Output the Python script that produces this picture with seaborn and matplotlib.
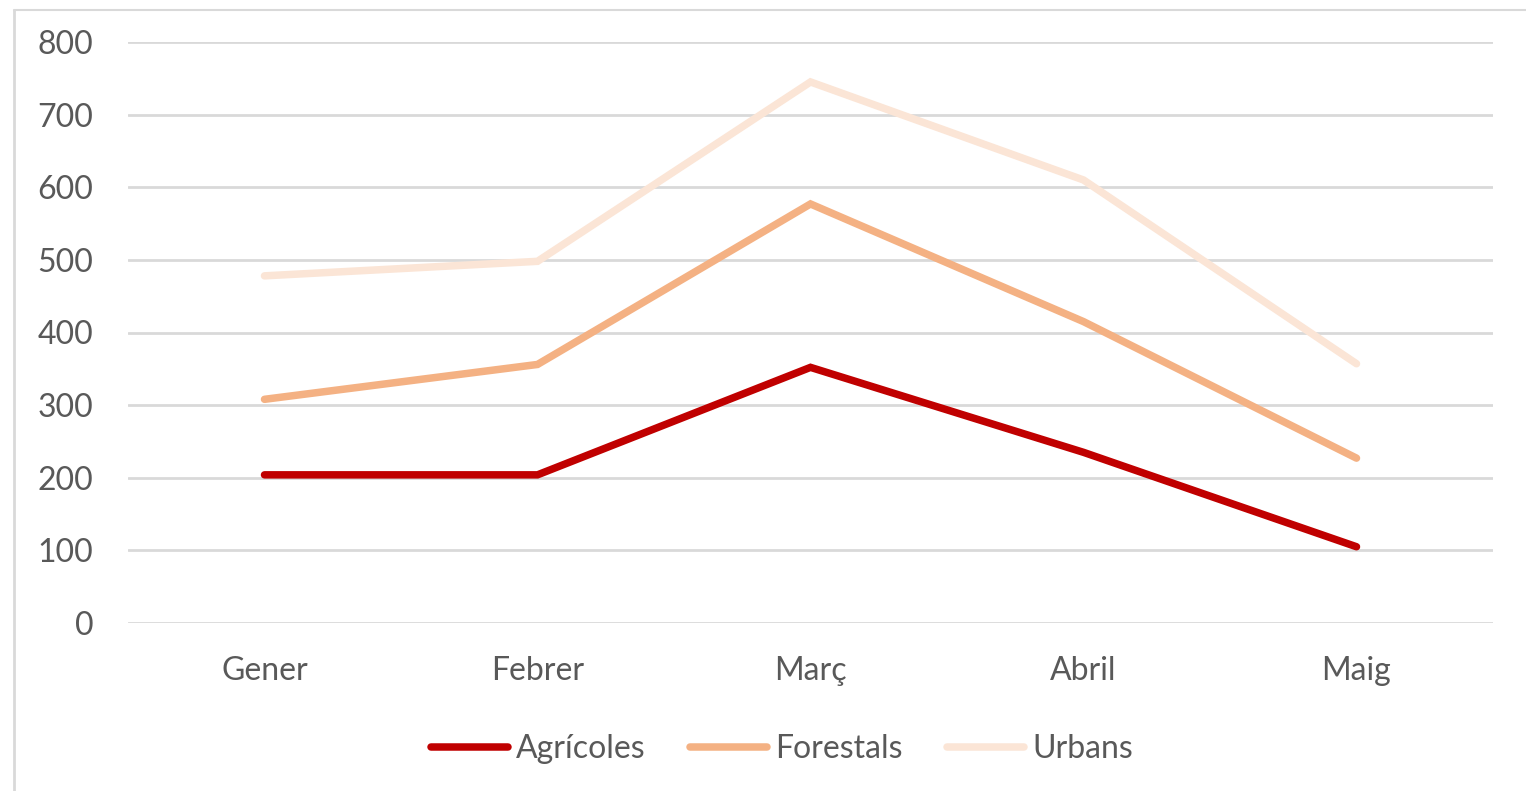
import numpy as np
import pandas as pd
import matplotlib
matplotlib.use("Agg")
import matplotlib.pyplot as plt
from matplotlib.lines import Line2D
import seaborn as sns

# Dades
mesos = ['Gener', 'Febrer', 'Març', 'Abril', 'Maig']
agricoles = [204, 204, 352, 235, 105]
forestals = [308, 356, 577, 415, 227]
urbans = [478, 498, 745, 610, 357]
series = ['Agrícoles', 'Forestals', 'Urbans']
colors = ['#C00000', '#F4B183', '#FBE5D6']

df = pd.DataFrame({'mes': mesos, 'Agrícoles': agricoles,
                   'Forestals': forestals, 'Urbans': urbans})
df_long = df.melt(id_vars='mes', var_name='tipus', value_name='valor')
df_long['x'] = df_long['mes'].map({m: i for i, m in enumerate(mesos)})

sns.set_style('white')
plt.rcParams['font.family'] = ['Lato', 'DejaVu Sans']

fig = plt.figure(figsize=(15.26, 7.91), dpi=100)
ax = fig.add_axes([128 / 1526, 1 - 623 / 791, (1493 - 128) / 1526, (623 - 42) / 791])

sns.lineplot(data=df_long, x='x', y='valor', hue='tipus', hue_order=series,
             palette=colors, linewidth=5.4, ax=ax, legend=False,
             solid_capstyle='round', solid_joinstyle='miter')

ax.set_xlim(-0.5, 4.5)
ax.set_ylim(0, 800)
ax.set_yticks(range(0, 801, 100))
ax.set_xticks(range(len(mesos)))
ax.set_xticklabels(mesos)
ax.set_xlabel('')
ax.set_ylabel('')
ax.yaxis.grid(True, color='#D9D9D9', linewidth=2)
ax.set_axisbelow(True)
for s in ax.spines.values():
    s.set_visible(False)
ax.tick_params(axis='both', length=0, labelsize=23, colors='#595959')
ax.tick_params(axis='y', pad=25)
ax.tick_params(axis='x', pad=24)

# Llegenda
handles = [Line2D([0], [0], color=c, linewidth=5.4, solid_capstyle='round') for c in colors]
fig.legend(handles, series, loc='center', bbox_to_anchor=(782 / 1526, 1 - 749 / 791),
           ncol=3, frameon=False, fontsize=23, handlelength=2.4, handletextpad=0.25,
           columnspacing=1.4, labelcolor='#595959')

# Vora del gràfic
fig.add_artist(Line2D([14 / 1526, 14 / 1526], [0, 1 - 10 / 791], color='#D9D9D9', linewidth=2,
                      transform=fig.transFigure))
fig.add_artist(Line2D([14 / 1526, 1], [1 - 10 / 791, 1 - 10 / 791], color='#D9D9D9', linewidth=1.5,
                      transform=fig.transFigure))

fig.savefig('out.png', dpi=100)
